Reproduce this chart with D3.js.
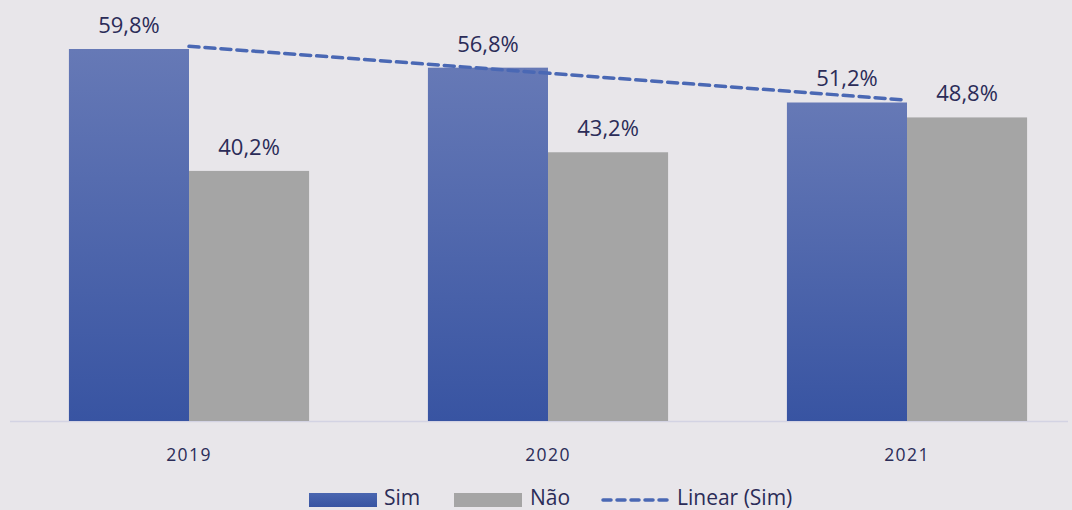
<!DOCTYPE html>
<html>
<head>
<meta charset="utf-8">
<script src="https://cdn.jsdelivr.net/npm/d3@7"></script>
<style>
  html, body { margin: 0; padding: 0; background: #e8e6ea; }
  svg { display: block; }
  text { font-family: "Open Sans", "Noto Sans", sans-serif; }
</style>
</head>
<body>
<svg id="chart" width="1072" height="510"></svg>
<script>
// Data
const years = ["2019", "2020", "2021"];
const simValues = [59.8, 56.8, 51.2];
const naoValues = [40.2, 43.2, 48.8];
const seriesNames = ["Sim", "Não"];
const valueLabelsSim = ["59,8%", "56,8%", "51,2%"];
const valueLabelsNao = ["40,2%", "43,2%", "48,8%"];
const trendName = "Linear (Sim)";

const W = 1072, H = 510;
const svg = d3.select("#chart");

const textColor = "#2b2c58";
const simTop = "#6679b6", simBottom = "#3854a2";
const naoColor = "#a5a5a5";
const trendColor = "#4a68b4";

// Scales
const x = d3.scaleBand().domain(years).range([9.5, 1086.5]).paddingInner(0.331).paddingOuter(0.1655);
const xSeries = d3.scaleBand().domain(seriesNames).range([0, x.bandwidth()]);
const y = d3.scaleLinear().domain([0, 59.8]).range([421, 49]);

// Gradient for the "Sim" bars
const defs = svg.append("defs");
const grad = defs.append("linearGradient").attr("id", "simGrad")
  .attr("x1", 0).attr("y1", 0).attr("x2", 0).attr("y2", 1);
grad.append("stop").attr("offset", "0%").attr("stop-color", simTop);
grad.append("stop").attr("offset", "100%").attr("stop-color", simBottom);
const gradLeg = defs.append("linearGradient").attr("id", "simGradLeg")
  .attr("x1", 0).attr("y1", 0).attr("x2", 0).attr("y2", 1);
gradLeg.append("stop").attr("offset", "0%").attr("stop-color", "#4a66b0");
gradLeg.append("stop").attr("offset", "100%").attr("stop-color", "#3854a2");

// Baseline axis
svg.append("line")
  .attr("x1", 10).attr("x2", 1068)
  .attr("y1", y(0) + 0.5).attr("y2", y(0) + 0.5)
  .attr("stroke", "#d3d3e3").attr("stroke-width", 1.5);

const rows = years.map((yr, i) => ({ yr, sim: simValues[i], nao: naoValues[i], ls: valueLabelsSim[i], ln: valueLabelsNao[i] }));

const groups = svg.selectAll("g.group").data(rows).join("g")
  .attr("class", "group")
  .attr("transform", d => `translate(${x(d.yr)},0)`);

// Sim bars
groups.append("rect")
  .attr("x", xSeries("Sim"))
  .attr("width", xSeries.bandwidth())
  .attr("y", d => y(d.sim))
  .attr("height", d => y(0) - y(d.sim))
  .attr("fill", "url(#simGrad)");

// Não bars
groups.append("rect")
  .attr("x", xSeries("Não"))
  .attr("width", xSeries.bandwidth())
  .attr("y", d => y(d.nao))
  .attr("height", d => y(0) - y(d.nao))
  .attr("fill", naoColor);

// Value labels
groups.append("text")
  .attr("x", xSeries("Sim") + xSeries.bandwidth() / 2)
  .attr("y", d => y(d.sim) - 16)
  .attr("text-anchor", "middle")
  .attr("font-size", 22)
  .attr("fill", textColor)
  .text(d => d.ls);
groups.append("text")
  .attr("x", xSeries("Não") + xSeries.bandwidth() / 2)
  .attr("y", d => y(d.nao) - 16)
  .attr("text-anchor", "middle")
  .attr("font-size", 22)
  .attr("fill", textColor)
  .text(d => d.ln);

// Category labels
svg.selectAll("text.cat").data(years).join("text")
  .attr("class", "cat")
  .attr("x", d => x(d) + x.bandwidth() / 2)
  .attr("y", 461)
  .attr("text-anchor", "middle")
  .attr("font-size", 17.5)
  .attr("letter-spacing", 1.4)
  .attr("fill", textColor)
  .text(d => d);

// Linear trend of "Sim" (least squares over category index)
const n = simValues.length;
const idx = d3.range(n);
const mx = d3.mean(idx), my = d3.mean(simValues);
const slope = d3.sum(idx, i => (i - mx) * (simValues[i] - my)) / d3.sum(idx, i => (i - mx) ** 2);
const intercept = my - slope * mx;
const trendPts = [0, n - 1].map(i => [x(years[i]) + x.bandwidth() / 2, y(intercept + slope * i)]);
trendPts[1][0] -= 4;
svg.append("path")
  .attr("d", d3.line()(trendPts))
  .attr("fill", "none")
  .attr("stroke", trendColor)
  .attr("stroke-width", 3.5)
  .attr("stroke-dasharray", "10 6")
  .attr("stroke-linecap", "round");

// Legend
const leg = svg.append("g");
leg.append("rect").attr("x", 309).attr("y", 493).attr("width", 68).attr("height", 14).attr("fill", "url(#simGradLeg)");
leg.append("text").attr("x", 384).attr("y", 505).attr("font-size", 21).attr("fill", textColor).text(seriesNames[0]);
leg.append("rect").attr("x", 454).attr("y", 493).attr("width", 68).attr("height", 14).attr("fill", naoColor);
leg.append("text").attr("x", 530).attr("y", 505).attr("font-size", 21).attr("fill", textColor).text(seriesNames[1]);
leg.append("line").attr("x1", 603).attr("x2", 670).attr("y1", 500).attr("y2", 500)
  .attr("stroke", trendColor).attr("stroke-width", 3.5)
  .attr("stroke-dasharray", "8 6").attr("stroke-linecap", "round");
leg.append("text").attr("x", 677).attr("y", 505).attr("font-size", 21).attr("fill", textColor).text(trendName);
</script>
</body>
</html>
